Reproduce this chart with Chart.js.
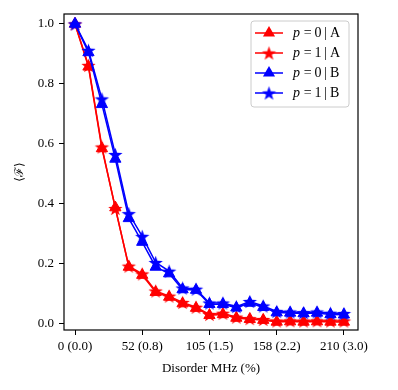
<!DOCTYPE html>
<html>
<head>
<meta charset="utf-8">
<script src="https://cdn.jsdelivr.net/npm/chart.js@4.4.1/dist/chart.umd.min.js"></script>
<style>
  html, body { margin: 0; padding: 0; background: #fff; }
</style>
</head>
<body>
<canvas id="fidelityChart" width="398" height="390"></canvas>
<script>
// disorder strength in MHz (x values)
const disorder = [0, 10.5, 21, 31.5, 42, 52.5, 63, 73.5, 84, 94.5, 105,
  115.5, 126, 136.5, 147, 157.5, 168, 178.5, 189, 199.5, 210];

// mean fidelity
const fidP0A = [1.0, 0.857, 0.585, 0.388, 0.19, 0.163, 0.106, 0.09, 0.068, 0.053, 0.029,
  0.032, 0.02, 0.016, 0.013, 0.007, 0.008, 0.007, 0.008, 0.007, 0.007];
const fidP1A = [1.0, 0.862, 0.59, 0.385, 0.193, 0.167, 0.11, 0.093, 0.072, 0.056, 0.032,
  0.036, 0.023, 0.018, 0.015, 0.01, 0.011, 0.01, 0.011, 0.01, 0.01];
const fidP0B = [1.0, 0.905, 0.732, 0.55, 0.352, 0.273, 0.19, 0.168, 0.115, 0.113, 0.066,
  0.066, 0.054, 0.07, 0.056, 0.038, 0.037, 0.035, 0.037, 0.032, 0.031];
const fidP1B = [1.0, 0.912, 0.75, 0.565, 0.368, 0.292, 0.205, 0.176, 0.12, 0.116, 0.07,
  0.07, 0.058, 0.075, 0.06, 0.042, 0.04, 0.038, 0.04, 0.036, 0.035];

const xTicks = [0, 52.5, 105, 157.5, 210];
const xTickLabels = ["0 (0.0)", "52 (0.8)", "105 (1.5)", "158 (2.2)", "210 (3.0)"];
const yTicks = [0, 0.2, 0.4, 0.6, 0.8, 1.0];

const RED = "#ff0000";
const BLUE = "#0000ff";
const SERIF = "'Liberation Serif', 'DejaVu Serif', serif";

// filled five point star like matplotlib's "*" marker
function makeStar(color, r) {
  const c = document.createElement("canvas");
  const size = Math.ceil(r * 2 + 2);
  c.width = size;
  c.height = size;
  const g = c.getContext("2d");
  const cx = size / 2, cy = size / 2 + r * 0.1;
  g.beginPath();
  for (let i = 0; i < 10; i++) {
    const rad = i % 2 === 0 ? r : r * 0.4;
    const a = -Math.PI / 2 + i * Math.PI / 5;
    const px = cx + Math.cos(a) * rad, py = cy + Math.sin(a) * rad;
    if (i === 0) g.moveTo(px, py); else g.lineTo(px, py);
  }
  g.closePath();
  g.fillStyle = color;
  g.fill();
  return c;
}

const redStar = makeStar(RED, 7.5);
const blueStar = makeStar(BLUE, 7.5);

function pts(ys) {
  return disorder.map((x, i) => ({ x: x, y: ys[i] }));
}

function series(label, ys, color, marker, order) {
  return {
    label: label,
    data: pts(ys),
    borderColor: color,
    backgroundColor: color,
    borderWidth: 1.5,
    pointStyle: marker,
    pointRadius: 6.5,
    pointBorderWidth: 1,
    pointBorderColor: color,
    pointBackgroundColor: color,
    tension: 0,
    order: order,
    clip: false,
  };
}

const datasets = [
  series("p = 0 | A", fidP0A, RED, "triangle", 4),
  series("p = 1 | A", fidP1A, RED, redStar, 3),
  series("p = 0 | B", fidP0B, BLUE, "triangle", 2),
  series("p = 1 | B", fidP1B, BLUE, blueStar, 1),
];

// axes frame + hand drawn legend (italic p)
const framePlugin = {
  id: "frame",
  afterDraw(chart) {
    const { ctx, chartArea: a } = chart;
    ctx.save();
    ctx.strokeStyle = "#000";
    ctx.lineWidth = 1.2;
    ctx.strokeRect(a.left, a.top, a.right - a.left, a.bottom - a.top);

    // legend box
    const bx = a.right - 107, by = a.top + 7, bw = 98, bh = 86;
    ctx.beginPath();
    ctx.roundRect(bx, by, bw, bh, 3);
    ctx.fillStyle = "rgba(255,255,255,0.8)";
    ctx.fill();
    ctx.strokeStyle = "#cccccc";
    ctx.lineWidth = 1;
    ctx.stroke();

    datasets.forEach((ds, i) => {
      const y = by + 12 + i * 20;
      const x0 = bx + 4, x1 = bx + 32, xm = (x0 + x1) / 2;
      ctx.strokeStyle = ds.borderColor;
      ctx.lineWidth = 1.5;
      ctx.beginPath();
      ctx.moveTo(x0, y);
      ctx.lineTo(x1, y);
      ctx.stroke();
      if (ds.pointStyle === "triangle") {
        const r = ds.pointRadius + 0.5;
        ctx.beginPath();
        ctx.moveTo(xm, y - r);
        ctx.lineTo(xm + r * 0.866, y + r * 0.5);
        ctx.lineTo(xm - r * 0.866, y + r * 0.5);
        ctx.closePath();
        ctx.fillStyle = ds.borderColor;
        ctx.fill();
      } else {
        const img = ds.pointStyle;
        ctx.drawImage(img, xm - img.width / 2, y - img.height / 2);
      }
      const parts = ds.label.split(" ");
      ctx.fillStyle = "#000";
      ctx.textBaseline = "middle";
      ctx.font = "italic 14px " + SERIF;
      let tx = bx + 42;
      ctx.fillText("p", tx, y);
      tx += ctx.measureText("p").width;
      ctx.font = "14px " + SERIF;
      ctx.fillText("\u2009=\u20090\u2009|\u2009A".replace("0", parts[2]).replace("A", parts[4]), tx + 1, y);
    });
    ctx.restore();
  },
};

new Chart(document.getElementById("fidelityChart"), {
  type: "line",
  data: { datasets: datasets },
  options: {
    responsive: false,
    animation: false,
    layout: { padding: { top: 14, right: 40, left: 0, bottom: 14 } },
    plugins: { legend: { display: false }, tooltip: { enabled: false } },
    scales: {
      x: {
        type: "linear",
        min: -8.6,
        max: 221,
        afterFit(scale) { scale.height = 46; },
        afterBuildTicks(scale) { scale.ticks = xTicks.map(v => ({ value: v })); },
        ticks: {
          color: "#000",
          font: { family: SERIF, size: 13 },
          padding: 4,
          maxRotation: 0,
          autoSkip: false,
          callback: (v) => xTickLabels[xTicks.indexOf(v)],
        },
        grid: { drawOnChartArea: false, tickLength: 5, color: "#000", lineWidth: 1 },
        border: { display: false },
        title: {
          display: true,
          text: "Disorder MHz (%)",
          color: "#000",
          font: { family: SERIF, size: 13 },
          padding: { top: 2, bottom: 0 },
        },
      },
      y: {
        min: -0.02,
        max: 1.033,
        afterFit(scale) { scale.width = 64; },
        afterBuildTicks(scale) { scale.ticks = yTicks.map(v => ({ value: v })); },
        ticks: {
          color: "#000",
          font: { family: SERIF, size: 13 },
          padding: 5,
          callback: (v) => v.toFixed(1),
        },
        grid: { drawOnChartArea: false, tickLength: 5, color: "#000", lineWidth: 1 },
        border: { display: false },
        title: {
          display: true,
          text: "\u27E8\u2131\u27E9",
          color: "#000",
          font: { family: "'DejaVu Serif', serif", size: 12 },
          padding: { top: 13, bottom: 0 },
        },
      },
    },
  },
  plugins: [framePlugin],
});
</script>
</body>
</html>
